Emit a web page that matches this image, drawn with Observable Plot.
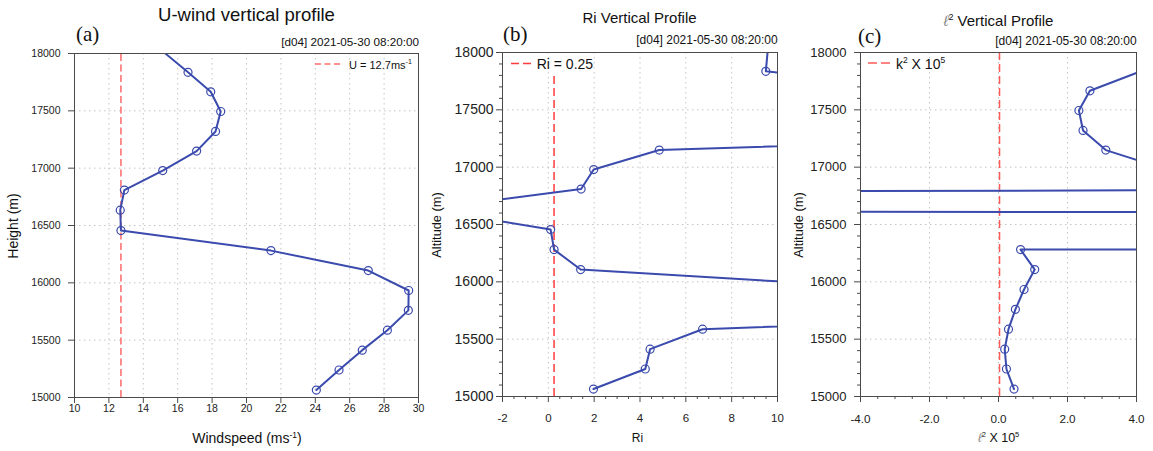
<!DOCTYPE html>
<html>
<head>
<meta charset="utf-8">
<script src="https://cdn.jsdelivr.net/npm/d3@7"></script>
<script src="https://cdn.jsdelivr.net/npm/@observablehq/plot@0.6"></script>
<style>
  html, body { margin: 0; padding: 0; background: #fff; }
  #wrap { position: relative; width: 1153px; height: 451px; overflow: hidden; background: #fff; }
  .panel { position: absolute; top: 0; }
  #overlay { position: absolute; left: 0; top: 0; pointer-events: none; }
</style>
</head>
<body>
<div id="wrap">
  <div class="panel" id="pa" style="left:0px"></div>
  <div class="panel" id="pb" style="left:430px"></div>
  <div class="panel" id="pc" style="left:790px"></div>
  <svg id="overlay" width="1153" height="451" font-family="'Liberation Sans', Arial, Helvetica, sans-serif" fill="#111">
    <!-- titles -->
    <text x="246.5" y="21" font-size="18.5" text-anchor="middle">U-wind vertical profile</text>
    <text x="639.5" y="23.3" font-size="15" text-anchor="middle">Ri Vertical Profile</text>
    <text x="998.5" y="25.5" font-size="15" text-anchor="middle"><tspan fill="#8a8a8a" font-style="italic">ℓ</tspan><tspan font-size="9" dy="-6">2</tspan><tspan dy="6"> Vertical Profile</tspan></text>
    <!-- panel letters -->
    <text x="76" y="41" font-family="'Liberation Serif', 'Times New Roman', serif" font-size="21">(a)</text>
    <text x="503" y="41" font-family="'Liberation Serif', 'Times New Roman', serif" font-size="21">(b)</text>
    <text x="858" y="43" font-family="'Liberation Serif', 'Times New Roman', serif" font-size="21">(c)</text>
    <!-- timestamps -->
    <text x="419" y="45.5" font-size="11.7" text-anchor="end">[d04] 2021-05-30 08:20:00</text>
    <text x="777.7" y="44" font-size="12" text-anchor="end">[d04] 2021-05-30 08:20:00</text>
    <text x="1136.7" y="44.5" font-size="12" text-anchor="end">[d04] 2021-05-30 08:20:00</text>
    <!-- legends -->
    <line x1="315" x2="340" y1="64" y2="64" stroke="#ff6b6b" stroke-width="1.5" stroke-dasharray="6,3.5"/>
    <text x="349" y="68.5" font-size="11">U = 12.7ms<tspan font-size="7" dy="-4.5">-1</tspan></text>
    <line x1="511" x2="531" y1="63.5" y2="63.5" stroke="#ff3b3b" stroke-width="1.5" stroke-dasharray="8,4"/>
    <text x="536.7" y="68.5" font-size="14">Ri = 0.25</text>
    <line x1="868" x2="890" y1="63" y2="63" stroke="#ff5a5a" stroke-width="1.5" stroke-dasharray="9,4"/>
    <text x="896" y="68.5" font-size="14">k<tspan font-size="8.5" dy="-6">2</tspan><tspan dy="6"> X 10</tspan><tspan font-size="8.5" dy="-6">5</tspan></text>
    <!-- axis titles -->
    <text x="247" y="443" font-size="14" text-anchor="middle">Windspeed (ms<tspan font-size="8.5" dy="-5.5">-1</tspan><tspan dy="5.5">)</tspan></text>
    <text x="637.5" y="442" font-size="12" text-anchor="middle">Ri</text>
    <text x="998.5" y="442" font-size="12.5" text-anchor="middle"><tspan fill="#8a8a8a" font-style="italic">ℓ</tspan><tspan font-size="7.5" dy="-5">2</tspan><tspan dy="5"> X 10</tspan><tspan font-size="7.5" dy="-5">5</tspan></text>
    <text transform="translate(17.5,226) rotate(-90)" font-size="14" text-anchor="middle">Height (m)</text>
    <text transform="translate(441,225) rotate(-90)" font-size="12.8" text-anchor="middle">Altitude (m)</text>
    <text transform="translate(802.5,225) rotate(-90)" font-size="12.8" text-anchor="middle">Altitude (m)</text>
  </svg>
</div>
<script>
// ---- data ----
const heights   = [15065, 15240, 15413, 15587, 15760, 15933, 16107, 16281, 16456, 16634, 16809, 16979, 17149, 17320, 17494, 17666, 17836, 18010];
const windspeed = [24.06, 25.38, 26.73, 28.19, 29.41, 29.43, 27.08, 21.42, 12.70, 12.66, 12.90, 15.13, 17.10, 18.20, 18.50, 17.92, 16.60, 15.20];
const richardson = [1.97, 4.23, 4.44, 6.73, 31.0, 15.9, 1.41, 0.25, 0.10, -5.3, 1.43, 1.98, 4.84, 32.0, 40.0, 17.0, 9.49, 9.57];
const ell2      = [0.45, 0.23, 0.18, 0.29, 0.49, 0.74, 1.05, 0.64, 1460, -230, 20, 4.88, 3.11, 2.45, 2.33, 2.65, 4.12, 6.0];

const uCrit = 12.7;
const riCrit = 0.25;
const riCritTop = 17800;
const k2 = 0.03;

// ---- ticks ----
const heightTicks = [15000, 15500, 16000, 16500, 17000, 17500, 18000];
const heightMinor = d3.range(15000, 18001, 100).filter(v => v % 500 !== 0);
const windTicks = [10, 12, 14, 16, 18, 20, 22, 24, 26, 28, 30];
const riTicks = [-2, 0, 2, 4, 6, 8, 10];
const riMinor = d3.range(-2, 10.01, 0.5).filter(v => v % 2 !== 0);
const ellTicks = [-4, -2, 0, 2, 4];
const ellMinor = d3.range(-4, 4.01, 0.5).filter(v => v % 2 !== 0);

const blue = "#3a4aad";
const frameColor = "#4a4a4a";
const gridStyle = {stroke: "#c4c4c4", strokeOpacity: 1, strokeDasharray: "1.5,3.5", strokeWidth: 1};
const font = "'Liberation Sans', Arial, Helvetica, sans-serif";

function table(vals) { return heights.map((h, i) => ({h, v: vals[i]})); }

function profile(vals, opts) {
  const data = table(vals);
  const [x0, x1] = opts.xdomain;
  // markers are only drawn for points that fall inside the plotting window
  const inside = d => d.v >= x0 && d.v <= x1 && d.h >= 15000 && d.h <= 18000;
  return Plot.plot({
    width: opts.width, height: 451,
    marginLeft: opts.ml, marginRight: opts.mr, marginTop: opts.mt, marginBottom: 451 - opts.mb,
    x: {domain: opts.xdomain, label: null},
    y: {domain: [15000, 18000], label: null},
    style: {background: "transparent", fontFamily: font, color: "#222", overflow: "visible"},
    marks: [
      Plot.gridX({ticks: opts.xticks.slice(1, -1), ...gridStyle}),
      Plot.gridY({ticks: heightTicks.slice(1, -1), ...gridStyle}),
      ...(opts.xminor ? [Plot.axisX({ticks: opts.xminor, tickSize: 3, text: null, stroke: frameColor, label: null})] : []),
      ...(opts.yminor ? [Plot.axisY({ticks: heightMinor, tickSize: 3, text: null, stroke: frameColor, label: null})] : []),
      Plot.axisX({ticks: opts.xticks, tickSize: 6, tickPadding: opts.xpad, tickFormat: opts.xfmt,
                  fontSize: opts.xfs, stroke: frameColor, fill: "#222", label: null}),
      Plot.axisY({ticks: heightTicks, tickSize: 6, tickPadding: opts.ypad, tickFormat: d => String(d),
                  fontSize: opts.yfs, stroke: frameColor, fill: "#222", label: null}),
      Plot.ruleX([opts.crit], {x: d => d, y1: 15000, y2: opts.critTop, stroke: opts.critColor,
                  strokeWidth: 1.5, strokeDasharray: opts.critDash, clip: true}),
      Plot.line(data, {x: "v", y: "h", stroke: blue, strokeWidth: 2, clip: true}),
      Plot.dot(data, {filter: inside, x: "v", y: "h", r: 4, stroke: blue, fill: "none", strokeWidth: 1.2}),
      Plot.frame({stroke: frameColor})
    ]
  });
}

document.getElementById("pa").append(profile(windspeed, {
  width: 430, ml: 74, mr: 12, mt: 53, mb: 397,
  xdomain: [10, 30], xticks: windTicks, xfmt: d => String(d), xpad: 1.5, xfs: 10.5,
  ypad: 8, yfs: 10.5, crit: uCrit, critTop: 18000, critColor: "#ff6b6b", critDash: "7,3.5"
}));

document.getElementById("pb").append(profile(richardson, {
  width: 360, ml: 72, mr: 13, mt: 52, mb: 396,
  xdomain: [-2, 10], xticks: riTicks, xminor: riMinor, yminor: true, xfmt: d => String(d), xpad: 11, xfs: 11.5,
  ypad: 3, yfs: 14, crit: riCrit, critTop: riCritTop, critColor: "#ff3b3b", critDash: "8,4"
}));

document.getElementById("pc").append(profile(ell2, {
  width: 363, ml: 70, mr: 17, mt: 52, mb: 396,
  xdomain: [-4, 4], xticks: ellTicks, xminor: ellMinor, yminor: true, xfmt: d => d.toFixed(1), xpad: 12, xfs: 11.7,
  ypad: 8, yfs: 13, crit: k2, critTop: 18000, critColor: "#ff5a5a", critDash: "8,4"
}));
</script>
</body>
</html>
